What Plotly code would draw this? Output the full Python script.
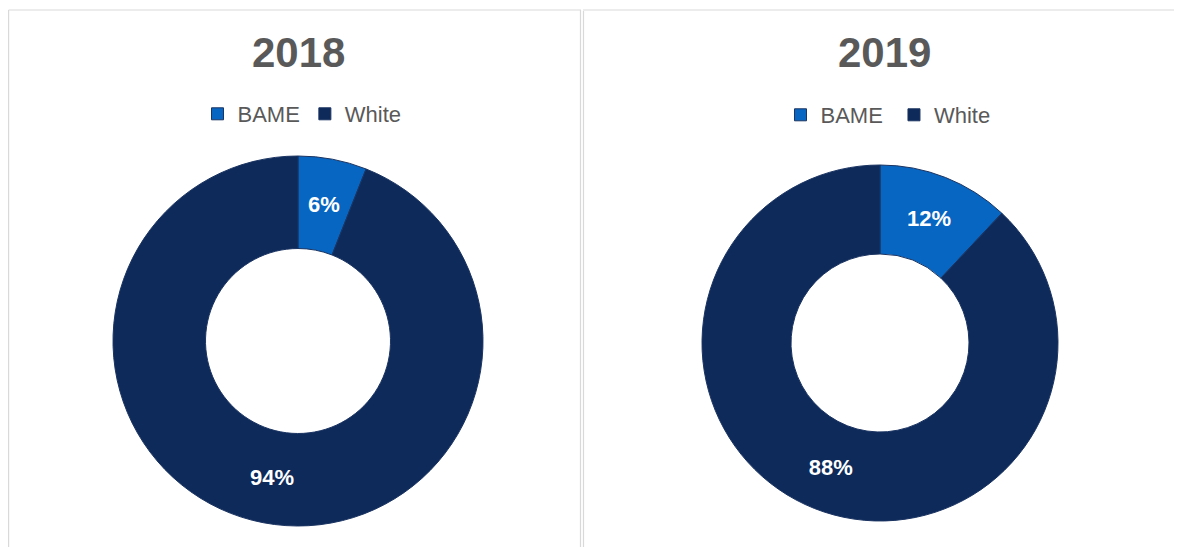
import math
import plotly.graph_objects as go

W, H = 1182, 547
OFF = 8  # page body margin

labels_2018 = ["BAME", "White"]
labels_2019 = ["BAME ", "White "]
values_2018 = [6, 94]
values_2019 = [12, 88]
years = ["2018", "2019"]
colors = ["#0766C2", "#0D2A5A"]

FONT = "Liberation Sans, Arial, sans-serif"
HOLE = 0.5

def px_x(x):
    return (x - OFF) / W

def px_y(y):
    return 1 - (y - OFF) / H

fig = go.Figure()
annotations = []

def add_donut(labels, vals, cx, cy, r, legend_id):
    # small slice labels are placed at mid-ring via annotations (computed from data)
    total = sum(vals)
    small = [v / total < 0.2 for v in vals]
    fig.add_trace(go.Pie(
        labels=labels,
        values=vals,
        hole=HOLE,
        sort=False,
        direction="clockwise",
        rotation=0,
        marker=dict(colors=colors, line=dict(color="#1b3462", width=1)),
        texttemplate="%{percent:.0%}",
        textposition=["none" if s else "inside" for s in small],
        insidetextorientation="horizontal",
        textfont=dict(family=FONT, size=22, color="white", weight="bold"),
        domain=dict(x=[px_x(cx - r), px_x(cx + r)], y=[px_y(cy + r), px_y(cy - r)]),
        legend=legend_id,
        hoverinfo="label+percent",
    ))
    cum = 0
    rmid = r * (1 + HOLE) / 2
    for v, s in zip(vals, small):
        mid = (cum + v / 2) / total * 2 * math.pi
        cum += v
        if not s:
            continue
        x = cx + rmid * math.sin(mid)
        y = cy - rmid * math.cos(mid)
        annotations.append(dict(
            text=f"{round(v / total * 100)}%", x=px_x(x), y=px_y(y),
            xref="paper", yref="paper", showarrow=False,
            xanchor="center", yanchor="middle",
            font=dict(family=FONT, size=22, color="white", weight="bold")))

add_donut(labels_2018, values_2018, 298, 341, 185, "legend")
add_donut(labels_2019, values_2019, 880, 343, 178, "legend2")

legend_common = dict(
    orientation="h",
    xanchor="center",
    yanchor="middle",
    font=dict(family=FONT, size=22, color="#595959"),
    bgcolor="rgba(0,0,0,0)",
    itemwidth=30,
    tracegroupgap=0,
)

annotations += [
    dict(text=years[0], x=px_x(298), y=px_y(52), xref="paper", yref="paper",
         showarrow=False, xanchor="center", yanchor="middle",
         font=dict(family=FONT, size=42, color="#595959", weight="bold")),
    dict(text=years[1], x=px_x(884), y=px_y(52), xref="paper", yref="paper",
         showarrow=False, xanchor="center", yanchor="middle",
         font=dict(family=FONT, size=42, color="#595959", weight="bold")),
]

border = "#D9D9D9"
lw = 1.2
shapes = [
    # left panel
    dict(type="line", xref="paper", yref="paper", x0=px_x(8.6), x1=px_x(8.6), y0=0, y1=px_y(10), line=dict(color=border, width=lw)),
    dict(type="line", xref="paper", yref="paper", x0=px_x(8.6), x1=px_x(581), y0=px_y(10), y1=px_y(10), line=dict(color=border, width=lw)),
    dict(type="line", xref="paper", yref="paper", x0=px_x(580.5), x1=px_x(580.5), y0=0, y1=px_y(10), line=dict(color=border, width=lw)),
    # right panel
    dict(type="line", xref="paper", yref="paper", x0=px_x(583.5), x1=px_x(583.5), y0=0, y1=px_y(11), line=dict(color=border, width=lw)),
    dict(type="line", xref="paper", yref="paper", x0=px_x(583), x1=1, y0=px_y(10), y1=px_y(10), line=dict(color=border, width=lw)),
]

fig.update_layout(
    width=W, height=H,
    margin=dict(l=0, r=0, t=0, b=0),
    paper_bgcolor="white",
    plot_bgcolor="white",
    showlegend=True,
    legend=dict(x=px_x(302), y=px_y(114), **legend_common),
    legend2=dict(x=px_x(891), y=px_y(115), **legend_common),
    annotations=annotations,
    shapes=shapes,
)

fig.write_html("out.html")
